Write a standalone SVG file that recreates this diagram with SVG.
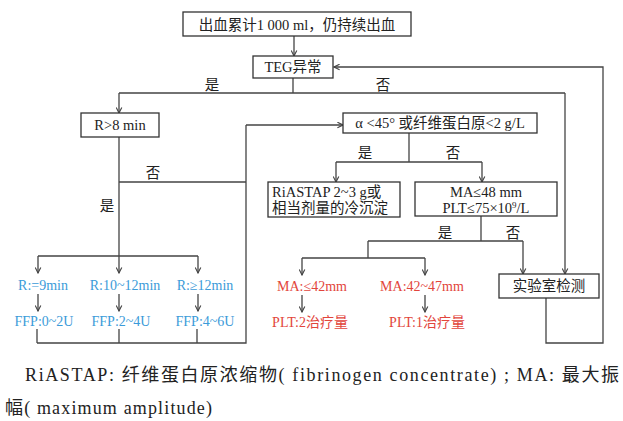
<svg xmlns="http://www.w3.org/2000/svg" width="623" height="421" viewBox="0 0 623 421">
<style>
.bx{fill:#fff;stroke:#333;stroke-width:1.3}
.t{font-family:"Liberation Serif","Noto Sans CJK SC",serif;font-size:14.5px;fill:#222}
.c{text-anchor:middle}
.b{font-family:"Liberation Serif","Noto Sans CJK SC",serif;font-size:14px;fill:#3b9bd9;text-anchor:middle}
.r{font-family:"Liberation Serif","Noto Sans CJK SC",serif;font-size:14px;fill:#e2453c;text-anchor:middle}
.ln{fill:none;stroke:#444;stroke-width:1.3}
.ar{fill:none;stroke:#444;stroke-width:1.3;marker-end:url(#ah)}
.cap{font-family:"Liberation Serif","Noto Sans CJK SC",serif;font-size:18px;fill:#222}
</style>
<defs>
<marker id="ah" viewBox="0 0 10 10" refX="9" refY="5" markerWidth="7" markerHeight="7" orient="auto" markerUnits="userSpaceOnUse">
<path d="M1,1 L9,5 L1,9" fill="none" stroke="#444" stroke-width="1.6"/>
</marker>
</defs>
<rect width="623" height="421" fill="#fff"/>
<g id="connectors">
<path class="ar" d="M294,36 V56"/>
<path class="ln" d="M293,78 V93 M119,93 H565"/>
<path class="ar" d="M119,93 V113"/>
<path class="ar" d="M565,93 V274"/>
<path class="ar" d="M546,298 V343 H603 V67 H334"/>
<path class="ln" d="M119,137 V256 M38,256 H198"/>
<path class="ar" d="M38,256 V273"/>
<path class="ar" d="M119,256 V273"/>
<path class="ar" d="M198,256 V273"/>
<path class="ln" d="M119,182 H246 M246,125 V343 H37 M37,329 V343 M119,329 V343 M197,329 V343"/>
<path class="ar" d="M246,125 H343"/>
<path class="ar" d="M38,294 V311"/>
<path class="ar" d="M119,294 V311"/>
<path class="ar" d="M198,294 V311"/>
<path class="ln" d="M409,133 V162 M336,162 H482"/>
<path class="ar" d="M336,162 V182"/>
<path class="ar" d="M482,162 V182"/>
<path class="ln" d="M481,216 V241 M368,241 H523 M368,241 V258 M302,258 H425"/>
<path class="ar" d="M523,241 V274"/>
<path class="ar" d="M302,258 V275"/>
<path class="ar" d="M425,258 V275"/>
<path class="ar" d="M302,295 V312"/>
<path class="ar" d="M425,295 V312"/>
</g>
<g id="labels" class="t">
<text x="212" y="90" class="c">是</text>
<text x="383" y="90" class="c">否</text>
<text x="153" y="178" class="c">否</text>
<text x="107" y="211" class="c">是</text>
<text x="365" y="158" class="c">是</text>
<text x="453" y="158" class="c">否</text>
<text x="445" y="238" class="c">是</text>
<text x="513" y="238" class="c">否</text>
</g>
<g id="start"><rect class="bx" x="183" y="12" width="228" height="24"/><text class="t c" x="297" y="30">出血累计1 000 ml，仍持续出血</text></g>
<g id="teg"><rect class="bx" x="253" y="56" width="80" height="22"/><text class="t c" x="293" y="72">TEG异常</text></g>
<g id="r8"><rect class="bx" x="81" y="113" width="78" height="24"/><text class="t c" x="120" y="130">R&gt;8 min</text></g>
<g id="alpha"><rect class="bx" x="343" y="113" width="194" height="20"/><text class="t c" x="440" y="128">α &lt;45° 或纤维蛋白原&lt;2 g/L</text></g>
<g id="riastap"><rect class="bx" x="268" y="182" width="132" height="35"/><text class="t" x="272" y="197">RiASTAP 2~3 g或</text><text class="t" x="272" y="213">相当剂量的冷沉淀</text></g>
<g id="ma48"><rect class="bx" x="415" y="182" width="142" height="34"/><text class="t c" x="486" y="197">MA≤48 mm</text><text class="t c" x="486" y="213">PLT≤75×10<tspan font-size="9" dy="-5">9</tspan><tspan dy="5">/L</tspan></text></g>
<g id="lab"><rect class="bx" x="499" y="274" width="100" height="24"/><text class="t c" x="549" y="291">实验室检测</text></g>
<g id="r9"><text class="b" x="43" y="290">R:=9min</text></g>
<g id="r1012"><text class="b" x="125" y="290">R:10~12min</text></g>
<g id="r12"><text class="b" x="205" y="290">R:≥12min</text></g>
<g id="ffp02"><text class="b" x="44" y="326">FFP:0~2U</text></g>
<g id="ffp24"><text class="b" x="121" y="326">FFP:2~4U</text></g>
<g id="ffp46"><text class="b" x="205" y="326">FFP:4~6U</text></g>
<g id="ma42"><text class="r" x="312" y="291">MA:≤42mm</text></g>
<g id="ma4247"><text class="r" x="422" y="291">MA:42~47mm</text></g>
<g id="plt2"><text class="r" x="310" y="327">PLT:2治疗量</text></g>
<g id="plt1"><text class="r" x="427" y="327">PLT:1治疗量</text></g>
<g id="caption">
<text class="cap" x="25" y="381" textLength="594" lengthAdjust="spacing">RiASTAP: 纤维蛋白原浓缩物( fibrinogen concentrate) ; MA: 最大振</text>
<text class="cap" x="5" y="414" textLength="207" lengthAdjust="spacing">幅( maximum amplitude)</text>
</g>
</svg>
